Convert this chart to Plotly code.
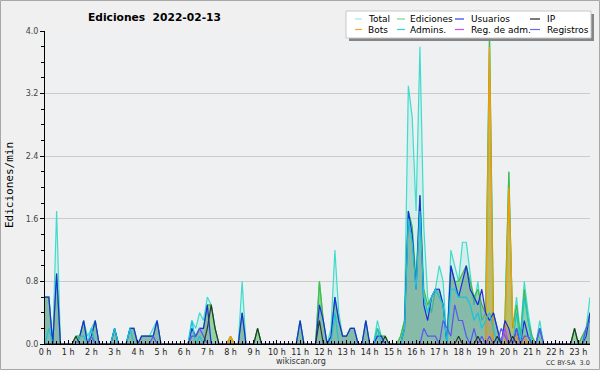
import plotly.graph_objects as go

# ---- data: edits per minute, 10-minute bins starting at 00:00 ----
bin_minutes = 10
total = [
    0.6, 0.6, 0, 1.7, 0, 0, 0, 0, 0.1, 0.1, 0.3, 0.1,
    0.2, 0.3, 0, 0, 0, 0, 0.2, 0, 0, 0, 0.2, 0.2,
    0, 0.1, 0.1, 0.1, 0.2, 0.3, 0, 0, 0, 0, 0, 0,
    0, 0, 0.3, 0.2, 0.4, 0.3, 0.6, 0.5, 0.2, 0, 0, 0,
    0.1, 0, 0, 0.8, 0, 0, 0, 0.2, 0, 0, 0, 0,
    0, 0, 0, 0, 0, 0, 0.3, 0, 0, 0, 0, 0.8,
    0.3, 0, 0.2, 1.2, 0.4, 0.1, 0.1, 0.2, 0.2, 0, 0, 0.3,
    0, 0, 0.3, 0.1, 0.1, 0, 0, 0, 0.1, 0.3, 3.3, 2.9,
    1.7, 3.8, 1.5, 0.6, 0.4, 0.7, 1.0, 0.8, 0, 1.2, 1.0, 0.8,
    1.3, 1.3, 0.9, 0.5, 0.8, 0.3, 0.4, 4.0, 0.4, 0.2, 0, 0.3,
    2.2, 0.2, 0.6, 0.1, 0.8, 0.4, 0.1, 0, 0.3, 0, 0, 0,
    0, 0, 0, 0, 0, 0.2, 0, 0.1, 0.2, 0.6,
]
ediciones = [
    0.6, 0.6, 0, 0.9, 0, 0, 0, 0, 0.1, 0.1, 0.3, 0,
    0.1, 0.3, 0, 0, 0, 0, 0.2, 0, 0, 0, 0.2, 0.2,
    0, 0.1, 0.1, 0.1, 0.1, 0.3, 0, 0, 0, 0, 0, 0,
    0, 0, 0.2, 0.1, 0.2, 0.2, 0.5, 0.5, 0.2, 0, 0, 0,
    0.1, 0, 0, 0.4, 0, 0, 0, 0.2, 0, 0, 0, 0,
    0, 0, 0, 0, 0, 0, 0.3, 0, 0, 0, 0, 0.8,
    0.3, 0, 0.1, 0.6, 0.3, 0.1, 0.1, 0.2, 0.2, 0, 0, 0.3,
    0, 0, 0.2, 0.1, 0.1, 0, 0, 0, 0.1, 0.3, 1.7, 1.5,
    0.8, 1.9, 0.7, 0.5, 0.6, 0.7, 0.7, 0.5, 0, 1.0, 0.8, 0.8,
    0.9, 1.0, 0.8, 0.6, 0.7, 0.5, 0.4, 3.9, 0.4, 0.2, 0, 0.3,
    2.2, 0.2, 0.5, 0.1, 0.7, 0.3, 0.1, 0, 0.2, 0, 0, 0,
    0, 0, 0, 0, 0, 0.2, 0, 0.1, 0.2, 0.4,
]
usuarios = [
    0.6, 0.6, 0, 0.9, 0, 0, 0, 0, 0, 0.1, 0.3, 0,
    0.1, 0.3, 0, 0, 0, 0, 0.2, 0, 0, 0, 0.2, 0.2,
    0, 0.1, 0.1, 0.1, 0.1, 0.3, 0, 0, 0, 0, 0, 0,
    0, 0, 0.2, 0.1, 0.2, 0.2, 0.5, 0, 0, 0, 0, 0,
    0, 0, 0, 0.4, 0, 0, 0, 0, 0, 0, 0, 0,
    0, 0, 0, 0, 0, 0, 0.3, 0, 0, 0, 0, 0.5,
    0.3, 0, 0.1, 0.6, 0.3, 0.1, 0.1, 0.2, 0.2, 0, 0, 0.3,
    0, 0, 0.1, 0.1, 0, 0, 0, 0, 0, 0.2, 1.7, 1.4,
    0.7, 1.9, 0.5, 0.3, 0.6, 0.7, 0.7, 0.5, 0, 1.0, 0.8, 0.6,
    0.8, 1.0, 0.7, 0.6, 0.5, 0.7, 0.4, 0.3, 0.4, 0.2, 0, 0.3,
    0.2, 0, 0.2, 0, 0.3, 0.1, 0, 0, 0.2, 0, 0, 0,
    0, 0, 0, 0, 0, 0, 0, 0, 0.1, 0.4,
]
ip = [
    0, 0, 0, 0, 0, 0, 0, 0, 0.1, 0, 0, 0,
    0, 0, 0, 0, 0, 0, 0, 0, 0, 0, 0, 0,
    0, 0, 0, 0, 0, 0, 0, 0, 0, 0, 0, 0,
    0, 0, 0, 0, 0, 0, 0.2, 0.5, 0.2, 0, 0, 0,
    0, 0, 0, 0, 0, 0, 0, 0.2, 0, 0, 0, 0,
    0, 0, 0, 0, 0, 0, 0, 0, 0, 0, 0, 0.3,
    0, 0, 0, 0, 0, 0, 0, 0, 0, 0, 0, 0,
    0, 0, 0, 0, 0.1, 0, 0, 0, 0, 0, 0, 0,
    0, 0, 0, 0, 0, 0, 0, 0, 0, 0, 0, 0.1,
    0, 0, 0, 0, 0.1, 0, 0, 0, 0, 0.1, 0, 0,
    0, 0.1, 0, 0, 0, 0, 0, 0, 0, 0, 0, 0,
    0, 0, 0, 0, 0, 0.2, 0, 0, 0, 0,
]
bots = [
    0, 0, 0, 0, 0, 0, 0, 0, 0, 0, 0, 0,
    0, 0, 0, 0, 0, 0, 0, 0, 0, 0, 0, 0,
    0, 0, 0, 0, 0, 0, 0, 0, 0, 0, 0, 0,
    0, 0, 0, 0, 0, 0, 0, 0, 0, 0, 0, 0,
    0.1, 0, 0, 0, 0, 0, 0, 0, 0, 0, 0, 0,
    0, 0, 0, 0, 0, 0, 0, 0, 0, 0, 0, 0,
    0, 0, 0, 0, 0, 0, 0, 0, 0, 0, 0, 0,
    0, 0, 0, 0, 0, 0, 0, 0, 0, 0, 0, 0,
    0, 0, 0, 0, 0, 0, 0, 0, 0, 0, 0, 0,
    0, 0, 0, 0, 0, 0, 0, 3.8, 0, 0, 0, 0,
    2.0, 0.3, 0.1, 0, 0.1, 0, 0, 0, 0, 0, 0, 0,
    0, 0, 0, 0, 0, 0, 0, 0, 0, 0,
]
admins = [
    0, 0.2, 0, 0, 0, 0, 0, 0, 0, 0.1, 0.1, 0,
    0.2, 0, 0, 0, 0, 0, 0.2, 0, 0, 0, 0.2, 0,
    0, 0, 0, 0, 0, 0, 0, 0, 0, 0, 0, 0,
    0, 0, 0.3, 0, 0.1, 0, 0, 0, 0, 0, 0, 0,
    0, 0, 0, 0, 0, 0, 0, 0, 0, 0, 0, 0,
    0, 0, 0, 0, 0, 0, 0, 0, 0, 0, 0, 0,
    0, 0, 0, 0.4, 0, 0, 0, 0, 0, 0, 0, 0,
    0, 0, 0.2, 0, 0, 0, 0, 0, 0, 0.2, 1.6, 1.3,
    0.7, 1.7, 0.6, 0.4, 0.6, 0.7, 0.6, 0.5, 0, 0.7, 0.7, 0.6,
    0.6, 0.6, 0.5, 0.3, 0.4, 0.2, 0.3, 0.4, 0.2, 0, 0, 0.2,
    0, 0, 0.4, 0, 0.6, 0.3, 0, 0, 0.2, 0, 0, 0,
    0, 0, 0, 0, 0, 0, 0, 0, 0.2, 0.3,
]
reg_adm = [0] * 119 + [0.2] + [0] * 22
registros = [
    0, 0, 0, 0, 0, 0, 0, 0, 0, 0, 0, 0,
    0.1, 0, 0, 0, 0, 0, 0, 0, 0, 0, 0, 0,
    0, 0, 0, 0, 0.1, 0, 0, 0, 0, 0, 0, 0,
    0, 0, 0.1, 0.1, 0.2, 0.1, 0, 0, 0, 0, 0, 0,
    0, 0, 0, 0, 0, 0, 0, 0, 0, 0, 0, 0,
    0, 0, 0, 0, 0, 0, 0, 0, 0, 0, 0, 0,
    0, 0, 0, 0, 0, 0, 0, 0, 0, 0, 0, 0,
    0, 0, 0, 0, 0, 0, 0, 0, 0, 0, 0, 0,
    0, 0, 0.2, 0.1, 0.1, 0.1, 0, 0.3, 0.2, 0.1, 0.5, 0.3,
    0.3, 0.1, 0, 0.2, 0, 0.1, 0, 0.1, 0, 0, 0.2, 0.1,
    0, 0, 0.2, 0, 0.1, 0.1, 0, 0, 0.2, 0, 0, 0,
    0, 0, 0, 0, 0, 0, 0, 0, 0.2, 0.3,
]

legend_names = ["Total", "Ediciones", "Usuarios", "IP",
                "Bots", "Admins.", "Reg. de adm.", "Registros"]
title_text = "Ediciones  2022-02-13"
y_title = "Ediciones/min"

hours = [i * bin_minutes / 60 for i in range(len(total))]

# ---- styling ----
C_TOTAL = "#40dccb"
C_EDIC = "#44bb44"
C_USU = "#1a2ee0"
C_IP = "#2a3a2a"
C_BOTS = "#ff9900"
C_ADM = "#18c4dc"
C_REGADM = "#d23ee8"
C_REG = "#5858f0"

fig = go.Figure()

def add(y, color, width=1.2, fill=None):
    kw = dict(x=hours, y=y, mode="lines", line=dict(color=color, width=width),
              showlegend=False, hoverinfo="skip")
    if fill:
        kw.update(fill="tozeroy", fillcolor=fill)
    fig.add_trace(go.Scatter(**kw))

add(total, C_TOTAL, fill="rgba(64,224,208,0.15)")
add(ediciones, C_EDIC, fill="rgba(60,175,60,0.42)")
add(bots, C_BOTS, fill="rgba(255,153,0,0.35)")
add(usuarios, C_USU, fill="rgba(40,40,210,0.13)")
add(admins, C_ADM)
add(registros, C_REG)
add(reg_adm, C_REGADM)
add(ip, C_IP)

L, R, T, B = 45, 10, 31, 26
W, H = 600, 370
PW, PH = W - L - R, H - T - B

def px(x):
    return (x - L) / PW

def py(y):
    return (H - B - y) / PH

shapes = []
annotations = []

# outer frame
shapes.append(dict(type="rect", xref="paper", yref="paper",
                   x0=px(0.5), x1=px(599.5), y0=py(369.5), y1=py(0.5),
                   line=dict(color="#a8a8a8", width=1), layer="below"))

# legend box with shadow
shapes.append(dict(type="rect", xref="paper", yref="paper",
                   x0=px(349), x1=px(594), y0=py(41), y1=py(14),
                   line=dict(width=0), fillcolor="#858585"))
shapes.append(dict(type="rect", xref="paper", yref="paper",
                   x0=px(346), x1=px(591), y0=py(38), y1=py(11),
                   line=dict(color="#c8c8c8", width=1), fillcolor="white"))

legend_colors = ["#9ee8e0", "#7fd67f", "#3a3af5", "#222222",
                 "#ffa020", "#30d0e0", "#d84ae8", "#6a6af5"]
col_line_x = [(355, 362), (397, 405), (455, 464), (530, 540)]
col_text_x = [366, 408, 469, 545]
row_y = [19, 29.5]
for k, name in enumerate(legend_names):
    r, c = divmod(k, 4)
    x0, x1 = col_line_x[c]
    shapes.append(dict(type="line", xref="paper", yref="paper",
                       x0=px(x0), x1=px(x1), y0=py(row_y[r]), y1=py(row_y[r]),
                       line=dict(color=legend_colors[k], width=1.2)))
    annotations.append(dict(text=name, xref="paper", yref="paper",
                            x=px(col_text_x[c]), y=py(row_y[r]),
                            xanchor="left", yanchor="middle", showarrow=False,
                            font=dict(family="DejaVu Sans", size=9, color="black")))

annotations.append(dict(text="<b>" + title_text + "</b>", xref="paper", yref="paper",
                        x=px(154), y=py(17), xanchor="center", yanchor="middle",
                        showarrow=False,
                        font=dict(family="DejaVu Sans", size=10.7, color="black")))
annotations.append(dict(text=y_title, xref="paper", yref="paper",
                        x=px(10), y=py(185), xanchor="center", yanchor="middle",
                        textangle=-90, showarrow=False,
                        font=dict(family="DejaVu Sans Mono", size=11, color="black")))
annotations.append(dict(text="wikiscan.org", xref="paper", yref="paper",
                        x=px(301), y=py(361.5), xanchor="center", yanchor="middle",
                        showarrow=False,
                        font=dict(family="DejaVu Sans", size=8, color="#333")))
annotations.append(dict(text="CC BY-SA  3.0", xref="paper", yref="paper",
                        x=px(592), y=py(362.5), xanchor="right", yanchor="middle",
                        showarrow=False,
                        font=dict(family="DejaVu Sans", size=6.5, color="#333")))

fig.update_layout(
    width=W, height=H, autosize=False,
    margin=dict(l=L, r=R, t=T, b=B, pad=0),
    paper_bgcolor="#f0f0f0", plot_bgcolor="#eef0f2",
    shapes=shapes, annotations=annotations, showlegend=False,
    xaxis=dict(range=[0, 23.5], tickmode="linear", tick0=0, dtick=1,
               ticksuffix=" h", showgrid=False, zeroline=False,
               showline=True, linecolor="black", linewidth=1,
               ticks="inside", ticklen=4, tickcolor="black", tickwidth=1,
               tickfont=dict(family="DejaVu Sans", size=8, color="#222"),
               minor=dict(dtick=1 / 6, ticks="inside", ticklen=3,
                          tickcolor="black", showgrid=False)),
    yaxis=dict(range=[0, 4.0], tickmode="linear", tick0=0, dtick=0.8,
               tickformat=".1f", showgrid=True, gridcolor="#cbcbcb", gridwidth=1,
               zeroline=False, showline=True, linecolor="black", linewidth=1,
               ticks="outside", ticklen=4, tickcolor="black", tickwidth=1,
               tickfont=dict(family="DejaVu Sans", size=8, color="#444"),
               minor=dict(dtick=0.2, ticks="outside", ticklen=3,
                          tickcolor="black", showgrid=False)),
)

fig.write_html(
    "out.html",
    config={"staticPlot": True, "displayModeBar": False},
    post_script="document.body.style.margin='0';document.body.style.overflow='hidden';",
)
